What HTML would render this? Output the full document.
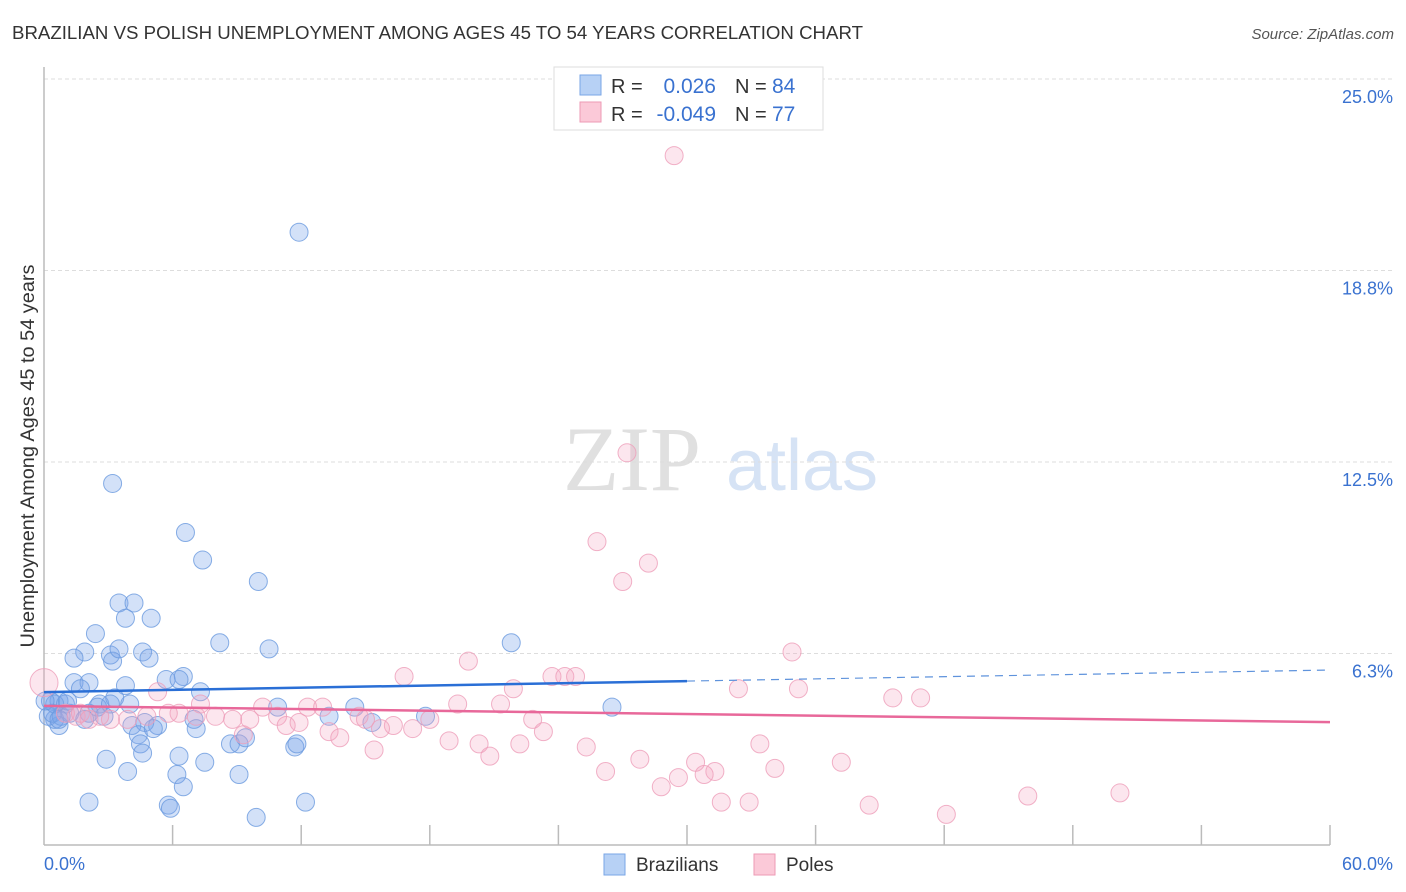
<!DOCTYPE html>
<html><head><meta charset="utf-8"><style>
body{margin:0;background:#fff;font-family:"Liberation Sans",sans-serif;}
svg{display:block}
</style></head><body>
<svg id="chart" width="1406" height="892" xmlns="http://www.w3.org/2000/svg" font-family="Liberation Sans, sans-serif">
<text x="12" y="39" font-size="18.5" fill="#333" textLength="851" lengthAdjust="spacingAndGlyphs">BRAZILIAN VS POLISH UNEMPLOYMENT AMONG AGES 45 TO 54 YEARS CORRELATION CHART</text>
<text x="1394" y="39" font-size="15" fill="#555" font-style="italic" text-anchor="end">Source: ZipAtlas.com</text>
<g>
<text x="632" y="490" font-size="92" fill="#e0e0e0" font-family="Liberation Serif, serif" text-anchor="middle">ZIP</text>
<text x="802" y="490" font-size="72" fill="#d6e3f5" text-anchor="middle">atlas</text>
</g>
<g id="grid"></g>
<g id="axes"></g>
<g id="pts"></g>
<g id="trends"></g>
<text transform="translate(34,456) rotate(-90)" font-size="19" fill="#333" text-anchor="middle" textLength="383" lengthAdjust="spacingAndGlyphs">Unemployment Among Ages 45 to 54 years</text>
<g>
<rect x="554" y="67" width="269" height="63" fill="#fff" stroke="#ddd"/>
<rect x="580" y="75" width="21" height="20" fill="#b7d1f5" stroke="#7aa6e6"/>
<rect x="580" y="102" width="21" height="20" fill="#fbc9d8" stroke="#ee9ab5"/>
<text x="611" y="93" font-size="20" fill="#333">R =</text>
<text x="716" y="93" font-size="21" fill="#3a72d0" text-anchor="end">0.026</text>
<text x="735" y="93" font-size="20" fill="#333">N =</text>
<text x="772" y="93" font-size="21" fill="#3a72d0">84</text>
<text x="611" y="121" font-size="20" fill="#333">R =</text>
<text x="716" y="121" font-size="21" fill="#3a72d0" text-anchor="end">-0.049</text>
<text x="735" y="121" font-size="20" fill="#333">N =</text>
<text x="772" y="121" font-size="21" fill="#3a72d0">77</text>
</g>
<g>
<rect x="604" y="854" width="21" height="21" fill="#b7d1f5" stroke="#7aa6e6"/>
<text x="636" y="871" font-size="19" fill="#333">Brazilians</text>
<rect x="754" y="854" width="21" height="21" fill="#fbc9d8" stroke="#ee9ab5"/>
<text x="786" y="871" font-size="19" fill="#333">Poles</text>
</g>
</svg>
<script>
const yTicks=[6.25,12.5,18.75,25.0];
const yTickLabels=["6.3%","12.5%","18.8%","25.0%"];
const xTickVals=[0,6,12,18,24,30,36,42,48,54,60];
const brazX=[11.9,3.2,6.6,7.4,10.0,3.5,4.2,5.0,3.8,2.4,8.2,10.5,21.8,1.9,1.4,3.1,3.2,3.5,4.6,4.9,1.4,2.1,3.8,5.7,6.5,6.3,7.3,1.7,0.7,0.3,1.0,2.6,3.3,4.0,10.9,14.5,26.5,13.3,15.3,17.8,7.0,4.1,5.3,4.7,0.7,0.5,0.2,0.4,1.2,2.1,2.8,0.8,4.4,7.1,4.5,6.3,8.7,9.1,9.4,11.7,11.8,2.9,4.6,7.5,3.9,6.2,9.1,6.5,2.1,5.8,5.9,9.9,12.2,0.5,0.05,1.1,1.9,2.5,5.1,0.7,3.1];
const brazY=[20.0,11.8,10.2,9.3,8.6,7.9,7.9,7.4,7.4,6.9,6.6,6.4,6.6,6.3,6.1,6.2,6.0,6.4,6.3,6.1,5.3,5.3,5.2,5.4,5.5,5.4,5.0,5.1,4.7,4.7,4.6,4.6,4.8,4.6,4.5,4.5,4.5,4.2,4.0,4.2,4.1,3.9,3.9,4.0,3.9,4.1,4.2,4.3,4.3,4.3,4.2,4.2,3.6,3.8,3.3,2.9,3.3,3.3,3.5,3.2,3.3,2.8,3.0,2.7,2.4,2.3,2.3,1.9,1.4,1.3,1.2,0.9,1.4,4.6,4.7,4.7,4.1,4.5,3.8,4.1,4.6];
const poleX=[29.4,27.2,25.8,27.0,28.2,34.9,19.8,16.8,23.7,24.3,24.8,21.9,32.4,35.2,39.6,40.9,5.3,19.3,21.3,22.8,23.3,12.3,13.0,10.2,10.9,14.7,15.0,18.0,16.3,17.2,15.7,8.8,8.0,7.1,6.3,5.8,4.8,3.9,3.1,2.6,1.5,1.0,11.3,11.9,13.3,13.8,15.4,18.9,20.3,20.8,22.2,25.3,9.3,26.2,27.8,30.4,31.3,30.8,33.4,34.1,37.2,29.6,28.8,31.6,32.9,38.5,42.1,45.9,50.2,1.7,2.1,7.3,9.6,0.0];
const poleY=[22.5,12.8,9.9,8.6,9.2,6.3,6.0,5.5,5.5,5.5,5.5,5.1,5.1,5.1,4.8,4.8,5.0,4.6,4.6,4.1,3.7,4.5,4.5,4.5,4.2,4.2,4.1,4.1,3.9,3.8,3.8,4.1,4.2,4.2,4.3,4.3,4.2,4.1,4.1,4.2,4.2,4.3,3.9,4.0,3.7,3.5,3.1,3.4,3.3,2.9,3.3,3.2,3.6,2.4,2.8,2.7,2.4,2.3,3.3,2.5,2.7,2.2,1.9,1.4,1.4,1.3,1.0,1.6,1.7,4.3,4.1,4.6,4.1,5.3];
const brazTrend=[4.99,5.71];
const poleTrend=[4.54,4.01];
const brazSolidEnd=30;

const NS="http://www.w3.org/2000/svg";
const X0=44,X1=1330,Y0=845,YTOP=79;
const sx=v=>X0+(v/60)*(X1-X0);
const sy=v=>Y0-(v/25)*(Y0-YTOP);
function mk(tag,attrs,parent){const e=document.createElementNS(NS,tag);for(const k in attrs)e.setAttribute(k,attrs[k]);parent.appendChild(e);return e;}
const grid=document.getElementById('grid'),axes=document.getElementById('axes'),pts=document.getElementById('pts'),tr=document.getElementById('trends');
yTicks.forEach((t,i)=>{
  const l=mk('line',{x1:X0,x2:1394,y1:sy(t),y2:sy(t),stroke:'#ddd','stroke-dasharray':'4,3'},grid);
  
  
  const tx=mk('text',{x:1393,y:sy(t)+24,'font-size':18,fill:'#3a72d0','text-anchor':'end'},axes);
  tx.textContent=yTickLabels[i];
  
  
});
const ax=mk('line',{x1:X0,x2:X1,y1:Y0,y2:Y0,stroke:'#bbb','stroke-width':1.5},axes);


const ay=mk('line',{x1:X0,x2:X0,y1:67,y2:Y0,stroke:'#bbb','stroke-width':1.5},axes);


xTickVals.forEach(v=>{if(v===0)return;const t=mk('line',{x1:sx(v),x2:sx(v),y1:Y0,y2:Y0-20,stroke:'#bbb','stroke-width':1.5},axes);
  
  });
const xl0=mk('text',{x:44,y:870,'font-size':18,fill:'#3a72d0'},axes);xl0.textContent='0.0%';


const xl1=mk('text',{x:1393,y:870,'font-size':18,fill:'#3a72d0','text-anchor':'end'},axes);xl1.textContent='60.0%';


function dots(xs,ys,fill,stroke,name){xs.forEach((x,i)=>{const big=(name==='pole-point'&&x===0);
  const c=mk('circle',{cx:sx(x),cy:sy(ys[i]),r:big?14:9,fill:fill,stroke:stroke,'stroke-width':1,'stroke-opacity':0.8},pts);
  
  });}
dots(brazX,brazY,'rgba(120,165,235,0.33)','#6a9ade','brazilian-point');
dots(poleX,poleY,'rgba(245,165,195,0.28)','#ee9eb9','pole-point');
const bAt=v=>brazTrend[0]+(brazTrend[1]-brazTrend[0])*v/60;
const b1=mk('line',{x1:sx(0),y1:sy(bAt(0)),x2:sx(brazSolidEnd),y2:sy(bAt(brazSolidEnd)),stroke:'#2a6fd6','stroke-width':2.5},tr);


const b2=mk('line',{x1:sx(brazSolidEnd),y1:sy(bAt(brazSolidEnd)),x2:sx(60),y2:sy(bAt(60)),stroke:'#5f93dc','stroke-width':1.2,'stroke-dasharray':'8,6'},tr);


const p1=mk('line',{x1:sx(0),y1:sy(poleTrend[0]),x2:sx(60),y2:sy(poleTrend[1]),stroke:'#e8689a','stroke-width':2.5},tr);


</script>
</body></html>
